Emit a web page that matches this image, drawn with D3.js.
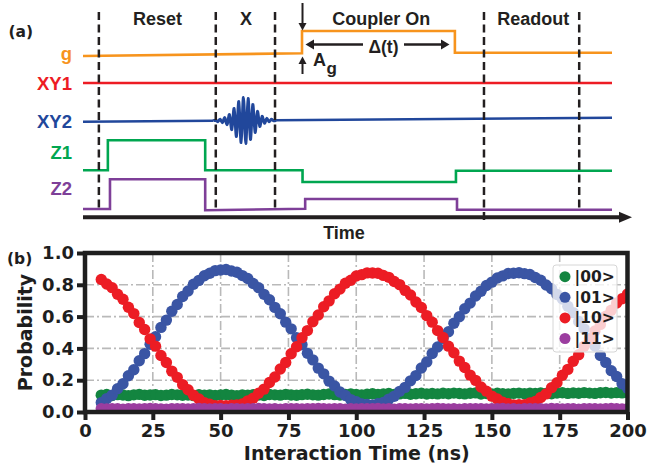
<!DOCTYPE html>
<html><head><meta charset="utf-8">
<script src="https://cdn.jsdelivr.net/npm/d3@7"></script>
<style>
html,body{margin:0;padding:0;background:#fff;}
svg{display:block;}
</style></head><body>
<svg id="chart" width="649" height="468"></svg>
<script>
// ================= Panel (b) data =================
const tStart = 6, tStep = 2;           // interaction time sampling (ns)
const p00 = [
 .106,.110,.104,.109,.107,.103,.108,.111,.105,.107,
 .109,.104,.106,.110,.108,.105,.107,.103,.109,.106,
 .108,.104,.107,.110,.106,.103,.108,.105,.109,.107,
 .104,.110,.108,.106,.111,.107,.105,.109,.112,.108,
 .106,.110,.113,.109,.107,.111,.114,.110,.108,.112,
 .115,.110,.113,.116,.111,.114,.117,.112,.115,.118,
 .113,.116,.114,.118,.115,.119,.116,.114,.118,.120,
 .113,.116,.114,.118,.115,.113,.117,.119,.115,.118,
 .116,.120,.117,.115,.119,.121,.117,.120,.118,.122,
 .119,.117,.121,.123,.119,.122,.120,.122];
const p01 = [
 .059,.084,.106,.146,.178,.228,.266,.322,.367,.426,.473,.532,.578,.634,.676,.726,.761,.803,.828,.857,.873,.889,.893,
 .896,.887,.879,.858,.840,.808,.782,.740,.706,.658,.618,.565,.523,.467,.423,.369,.328,.276,.240,.194,.164,.126,.104,.078,.064,.050,.047,
 .045,.052,.060,.081,.099,.130,.155,.196,.229,.277,.315,.368,.409,.463,.505,.558,.599,.649,.685,.730,.759,.796,.817,.843,.856,.871,.873,
 .876,.870,.865,.846,.829,.799,.775,.739,.711,.665,.625,.569,.523,.463,.415,.355,.312,.260,.223,.178,.150];
const p10 = [
 .833,.805,.782,.741,.709,.659,.619,.563,.519,.460,.414,.355,.311,.257,.218,.172,.140,.105,.082,.059,.049,.040,
 .041,.039,.042,
 .044,.050,.070,.087,.118,.144,.186,.220,.270,.311,.366,.410,.467,.512,.568,.610,.662,.699,.744,.773,.810,.829,.855,.864,.875,
 .874,.873,.859,.847,.821,.801,.765,.736,.692,.657,.606,.565,.512,.469,.414,.373,.320,.280,.232,.199,.157,.131,.100,.082,.061,.052,.045,
 .046,.046,.057,.066,.091,.114,.153,.184,.231,.268,.319,.360,.414,.456,.510,.551,.602,.640,.686,.712,.742];
const p11 = [
 .020,.019,.021,.020,.018,.020,.021,.019,.020,.022,
 .020,.019,.018,.020,.021,.020,.019,.020,.022,.020,
 .019,.021,.020,.018,.020,.021,.019,.020,.020,.022,
 .021,.019,.020,.018,.020,.021,.020,.019,.021,.020,
 .022,.020,.019,.020,.021,.018,.020,.019,.021,.020,
 .020,.022,.019,.020,.018,.021,.020,.019,.020,.021,
 .019,.020,.022,.020,.019,.021,.018,.020,.021,.020,
 .020,.019,.021,.020,.022,.019,.020,.018,.021,.020,
 .021,.020,.019,.022,.020,.019,.021,.020,.018,.020,
 .020,.021,.019,.020,.022,.020,.019,.021];
const xTicks = [0,25,50,75,100,125,150,175,200];
const yTicks = [0,0.2,0.4,0.6,0.8,1.0];
const legendLabels = ["|00>","|01>","|10>","|11>"];
const seriesColors = ["#138540","#3a55a4","#ec1c24","#9b3d9f"];
const xLabel = "Interaction Time (ns)";
const yLabel = "Probability";

// ================= Panel (a) schematic =================
const phaseNames = ["Reset","X","Coupler On","Readout"];
const phaseCenters = [14.1, 30.8, 56.4, 85.1];          // schematic time units
const phaseBoundaries = [3.0, 25.1, 36.3, 75.8, 93.8];
const channelNames = ["g","XY1","XY2","Z1","Z2"];
const channelColors = ["#f7941d","#ed1c24","#21479b","#00a650","#7e3f98"];
const gLevels   = [[0,0],[41.4,2.7],[41.4,25],[70.3,25],[70.3,3.3],[100,3.3]];
const xy1Levels = [[0,0],[100,0]];
const xy2Levels = [[0,0],[100,4]];
const z1Levels  = [[0,0],[4.7,0],[4.7,30],[23.1,30],[23.1,0],[41.5,0],[41.5,-11.7],[70.5,-11.7],[70.5,-0.5],[100,-0.5]];
const z2Levels  = [[0,0],[5.1,0],[5.1,29.7],[23.1,29.7],[23.1,-1.2],[42,0.2],[42,10],[70.7,10],[70.7,-0.8],[100,-0.8]];
const packetAmp = [0.5,1,1.5,2,3,4,6,9,12,16,19,22,23,23,22,19,16,12,9,6,4,3,2,1.5,1,0.5];
const packetSpan = [24.6, 36.5];

// ================= Drawing =================
const svg = d3.select("#chart");
const FA = "'Liberation Sans', Arial, sans-serif";
const FB = "'DejaVu Sans', sans-serif";
const INK = "#231f20";

svg.append("rect").attr("width",649).attr("height",468).attr("fill","#fff");

// ---- Panel (a)
const tA = d3.scaleLinear().domain([0,100]).range([83,612]);
const rowBase = d3.scaleOrdinal().domain(channelNames).range([56, 83, 121.7, 170.3, 209]);
const lvl = d3.scaleLinear().domain([0,1]).range([0,-1]);   // level units -> px upward
const lineA = d3.line().x(d=>tA(d[0])).y(d=>d[1]);

const chanLevels = [gLevels, xy1Levels, xy2Levels, z1Levels, z2Levels];
chanLevels.forEach((lv,i)=>{
  const name = channelNames[i];
  let pts = lv.map(p=>[p[0], rowBase(name)+lvl(p[1])]);
  if (name === "XY2") {
    const baseAt = t => rowBase(name) + lvl(d3.scaleLinear().domain([xy2Levels[0][0], xy2Levels[1][0]]).range([xy2Levels[0][1], xy2Levels[1][1]])(t));
    const n = packetAmp.length;
    const tp = d3.scaleLinear().domain([-1, n]).range(packetSpan);
    const mid = packetAmp.map((a,k)=>[tp(k), baseAt(tp(k)) + (k%2===0 ? -a : a)]);
    const before = [pts[0], [packetSpan[0], baseAt(packetSpan[0])]];
    const after = [[packetSpan[1], baseAt(packetSpan[1])], pts[1]];
    svg.append("path").attr("d", lineA(before)).attr("fill","none").attr("stroke",channelColors[i]).attr("stroke-width",2.6);
    svg.append("path").attr("d", lineA(after)).attr("fill","none").attr("stroke",channelColors[i]).attr("stroke-width",2.6);
    svg.append("path").attr("d", d3.line().x(d=>tA(d[0])).y(d=>d[1]).curve(d3.curveCardinal.tension(0.2))([before[1]].concat(mid,[after[0]])))
      .attr("fill","none").attr("stroke",channelColors[i]).attr("stroke-width",3);
  } else {
    svg.append("path").attr("d", lineA(pts)).attr("fill","none")
      .attr("stroke",channelColors[i]).attr("stroke-width",2.6).attr("stroke-linejoin","miter");
  }
});

// channel labels
const labelBase = [59.5, 90, 128, 158.5, 195];
channelNames.forEach((n,i)=>{
  svg.append("text").text(n).attr("x",72).attr("y",labelBase[i])
    .attr("text-anchor","end").attr("fill",channelColors[i])
    .attr("font-family",FA).attr("font-weight","bold").attr("font-size",18.5);
});

// phase dividers
phaseBoundaries.forEach((b,i)=>{
  svg.append("line").attr("x1",tA(b)).attr("x2",tA(b)).attr("y1",12).attr("y2", i===3 ? 220 : 211)
    .attr("stroke",INK).attr("stroke-width",2.5).attr("stroke-dasharray","8,4.5");
});
phaseNames.forEach((n,i)=>{
  svg.append("text").text(n).attr("x",tA(phaseCenters[i])).attr("y",24.5)
    .attr("text-anchor","middle").attr("fill",INK)
    .attr("font-family",FA).attr("font-weight","bold").attr("font-size",18);
});

// time axis
const axY = 217.3;
svg.append("line").attr("x1",83).attr("x2",622).attr("y1",axY).attr("y2",axY)
  .attr("stroke",INK).attr("stroke-width",4);
svg.append("path").attr("d",`M619,${axY-5.5}L632,${axY}L619,${axY+5.5}Z`).attr("fill",INK);
svg.append("text").text("Time").attr("x",344).attr("y",238.5).attr("text-anchor","middle")
  .attr("fill",INK).attr("font-family",FA).attr("font-weight","bold").attr("font-size",18);

// annotations: A_g arrows
const ax = tA(gLevels[1][0]) + 0.5;
svg.append("line").attr("x1",ax).attr("x2",ax).attr("y1",3).attr("y2",24).attr("stroke",INK).attr("stroke-width",2);
svg.append("path").attr("d",`M${ax-4},23L${ax+4},23L${ax},30.5Z`).attr("fill",INK);
svg.append("line").attr("x1",ax).attr("x2",ax).attr("y1",63).attr("y2",74).attr("stroke",INK).attr("stroke-width",2);
svg.append("path").attr("d",`M${ax-4},64L${ax+4},64L${ax},56.5Z`).attr("fill",INK);
svg.append("text").attr("x",313).attr("y",65.5).attr("fill",INK).attr("font-family",FA)
  .attr("font-weight","bold").attr("font-size",18).text("A");
svg.append("text").attr("x",326.5).attr("y",74).attr("fill",INK).attr("font-family",FA)
  .attr("font-weight","bold").attr("font-size",17).text("g");

// Delta(t) double arrow
const dy = 44.5;
svg.append("line").attr("x1",312).attr("x2",363).attr("y1",dy).attr("y2",dy).attr("stroke",INK).attr("stroke-width",2.6);
svg.append("path").attr("d",`M314,${dy-5}L305.5,${dy}L314,${dy+5}Z`).attr("fill",INK);
svg.append("line").attr("x1",404).attr("x2",442).attr("y1",dy).attr("y2",dy).attr("stroke",INK).attr("stroke-width",2.6);
svg.append("path").attr("d",`M441,${dy-5}L449.5,${dy}L441,${dy+5}Z`).attr("fill",INK);
svg.append("text").text("\u0394(t)").attr("x",383.5).attr("y",52.5).attr("text-anchor","middle")
  .attr("fill",INK).attr("font-family",FA).attr("font-weight","bold").attr("font-size",17.5);

svg.append("text").text("(a)").attr("x",8.5).attr("y",36.5).attr("fill",INK)
  .attr("font-family",FB).attr("font-weight","bold").attr("font-size",15.5);

// ---- Panel (b)
const X0 = 85, X1 = 627.5, Y0 = 412, Y1 = 253;
const xB = d3.scaleLinear().domain([0,200]).range([X0,X1]);
const yB = d3.scaleLinear().domain([0,1]).range([Y0,Y1]);
const gB = svg.append("g");

// grid
const grid = gB.append("g").attr("stroke","#b9b9b9").attr("stroke-width",1.6).attr("stroke-dasharray","9,3,2,3");
xTicks.slice(1,-1).forEach(v=>grid.append("line").attr("x1",xB(v)).attr("x2",xB(v)).attr("y1",Y1).attr("y2",Y0));
yTicks.slice(1,-1).forEach(v=>grid.append("line").attr("x1",X0).attr("x2",X1).attr("y1",yB(v)).attr("y2",yB(v)));

svg.append("defs").append("clipPath").attr("id","plotclip")
  .append("rect").attr("x",X0).attr("y",Y1).attr("width",X1-X0).attr("height",Y0-Y1);
const dots = gB.append("g").attr("clip-path","url(#plotclip)");
[p00,p01,p10,p11].forEach((s,si)=>{
  dots.append("g").selectAll("circle").data(s).join("circle")
    .attr("cx",(d,i)=>xB(tStart + i*tStep)).attr("cy",d=>yB(d)).attr("r",5.7)
    .attr("fill",seriesColors[si]);
});

// legend
const lg = gB.append("g");
lg.append("rect").attr("x",553).attr("y",265).attr("width",64).attr("height",87).attr("rx",3)
  .attr("fill","#fff").attr("fill-opacity",0.78).attr("stroke","#d6d6d6").attr("stroke-width",1);
legendLabels.forEach((l,i)=>{
  const yy = 276.7 + i*20.6;
  lg.append("circle").attr("cx",565).attr("cy",yy).attr("r",5.5).attr("fill",seriesColors[i]);
  lg.append("text").text(l).attr("x",574.5).attr("y",yy).attr("dy","0.36em").attr("fill","#1e1e1e")
    .attr("font-family",FB).attr("font-weight","bold").attr("font-size",15.5);
});

// frame
gB.append("rect").attr("x",X0).attr("y",Y1).attr("width",X1-X0).attr("height",Y0-Y1)
  .attr("fill","none").attr("stroke","#1e1e1e").attr("stroke-width",4.5);

// axes
const xa = gB.append("g").attr("transform",`translate(0,${Y0})`)
  .call(d3.axisBottom(xB).tickValues(xTicks).tickFormat(d3.format("d")).tickSize(8).tickPadding(4));
const ya = gB.append("g").attr("transform",`translate(${X0},0)`)
  .call(d3.axisLeft(yB).tickValues(yTicks).tickFormat(d3.format(".1f")).tickSize(8).tickPadding(3));
[xa,ya].forEach(a=>{
  a.select(".domain").remove();
  a.selectAll(".tick line").attr("stroke","#1e1e1e").attr("stroke-width",4);
  a.selectAll(".tick text").attr("fill","#1e1e1e").attr("font-family",FB)
    .attr("font-weight","bold").attr("font-size",18);
});

svg.append("text").text(xLabel).attr("x",(X0+X1)/2+0.5).attr("y",459.5).attr("text-anchor","middle")
  .attr("fill","#1e1e1e").attr("font-family",FB).attr("font-weight","bold").attr("font-size",19);
svg.append("text").text(yLabel).attr("transform","translate(32,332.5) rotate(-90)").attr("text-anchor","middle")
  .attr("fill","#1e1e1e").attr("font-family",FB).attr("font-weight","bold").attr("font-size",19);
svg.append("text").text("(b)").attr("x",7).attr("y",264).attr("fill","#1e1e1e")
  .attr("font-family",FB).attr("font-weight","bold").attr("font-size",15.5);
</script>
</body></html>
